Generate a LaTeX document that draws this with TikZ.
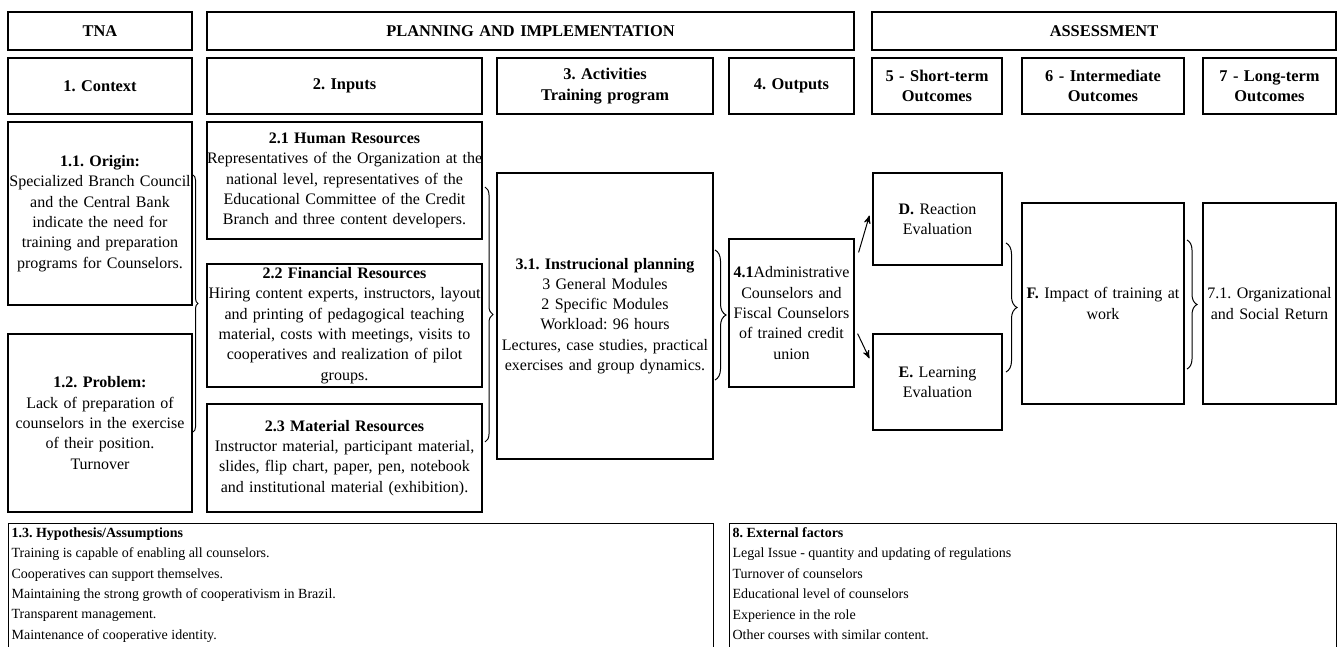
\documentclass[tikz,border=0pt]{standalone}
\usepackage{fontspec}
\setmainfont{Liberation Serif}
\usetikzlibrary{arrows,calc,decorations.pathreplacing}

\newcommand{\boxfont}{\fontsize{8}{10.15}\selectfont\frenchspacing}
\newcommand{\headfont}{\fontsize{8.2}{10.15}\selectfont\frenchspacing\bfseries}
\newcommand{\notefont}{\fontsize{7}{10.2}\selectfont\frenchspacing}

\begin{document}
\begin{tikzpicture}[x=0.5pt,y=-0.5pt,>=stealth',line width=0.6pt]
\tikzstyle{every node}=[font=\boxfont]
\tikzstyle{box}=[draw,inner sep=0pt,align=center]
\tikzstyle{head}=[box,font=\headfont]
\tikzstyle{note}=[inner sep=0pt,align=left,anchor=north west,font=\notefont]
\tikzstyle{brc}=[decorate,line width=0.5pt]

\clip (0,0) rectangle (1340,647);

% stage headers
\node[head, text width=92pt,    minimum height=19pt] (tna)    at (100,31)   {TNA};
\node[head, text width=323.5pt, minimum height=19pt] (plan)   at (530.5,31) {PLANNING AND IMPLEMENTATION};
\node[head, text width=232pt,   minimum height=19pt] (assess) at (1104,31)  {ASSESSMENT};

% column headers
\node[head, text width=92pt,    minimum height=28pt] (ctx)   at (100,86)    {1. Context};
\node[head, text width=137.5pt, minimum height=28pt] (inp)   at (344.5,86)  {2. Inputs};
\node[head, text width=108pt,   minimum height=28pt] (act)   at (605,86)    {3. Activities\\Training program};
\node[head, text width=62.5pt,  minimum height=28pt] (outs)  at (791.5,86)  {4. Outputs};
\node[head, text width=65pt,    minimum height=28pt] (short) at (937,86)    {5 - Short-term\\Outcomes};
\node[head, text width=81pt,    minimum height=28pt] (inter) at (1103,86)   {6 - Intermediate\\Outcomes};
\node[head, text width=66.5pt,  minimum height=28pt] (long)  at (1269.5,86) {7 - Long-term\\Outcomes};

% context
\node[box, text width=92pt, minimum height=91.5pt] (orig) at (100,213.5)
  {\textbf{1.1. Origin:}\\\mbox{Specialized Branch Council}\\and the Central Bank\\indicate the need for\\\mbox{training and preparation}\\\mbox{programs for Counselors.}};
\node[box, text width=92pt, minimum height=89pt] (prob) at (100,423)
  {\textbf{1.2. Problem:}\\Lack of preparation of\\\mbox{counselors in the exercise}\\of their position.\\Turnover};

% inputs
\node[box, text width=137.5pt, minimum height=58.5pt] (hum) at (344.5,180.5)
  {\textbf{2.1 Human Resources}\\\mbox{Representatives of the Organization at the}\\\mbox{national level, representatives of the}\\\mbox{Educational Committee of the Credit}\\\mbox{Branch and three content developers.}};
\node[box, text width=137.5pt, minimum height=61.5pt] (fin) at (344.5,325.5)
  {\textbf{2.2 Financial Resources}\\\mbox{Hiring content experts, instructors, layout}\\\mbox{and printing of pedagogical teaching}\\\mbox{material, costs with meetings, visits to}\\\mbox{cooperatives and realization of pilot}\\groups.};
\node[box, text width=137.5pt, minimum height=54pt] (mat) at (344.5,458)
  {\textbf{2.3 Material Resources}\\\mbox{Instructor material, participant material,}\\\mbox{slides, flip chart, paper, pen, notebook}\\\mbox{and institutional material (exhibition).}};

% activities and outputs
\node[box, text width=108pt, minimum height=143pt] (instr) at (605,316)
  {\textbf{3.1. Instrucional planning}\\3 General Modules\\2 Specific Modules\\Workload: 96 hours\\\mbox{Lectures, case studies, practical}\\\mbox{exercises and group dynamics.}};
\node[box, text width=62.5pt, minimum height=74pt] (outp) at (791.5,313)
  {\mbox{\textbf{4.1}Administrative}\\Counselors and\\\mbox{Fiscal Counselors}\\of trained credit\\union};

% outcomes
\node[box, text width=64.5pt, minimum height=46pt]    (react)  at (937.5,219)    {\textbf{D.} Reaction\\Evaluation};
\node[box, text width=64.5pt, minimum height=48pt]    (learn)  at (937.5,382)    {\textbf{E.} Learning\\Evaluation};
\node[box, text width=81pt,   minimum height=100.5pt] (impact) at (1103,303.5)   {\mbox{\textbf{F.} Impact of training at}\\work};
\node[box, text width=66.5pt, minimum height=100.5pt] (ret)    at (1269.5,303.5) {\mbox{7.1. Organizational}\\and Social Return};

% braces
\draw[brc, decoration={brace,amplitude=2.5pt}] (193,175)  -- (193,432);
\draw[brc, decoration={brace,amplitude=4pt}]   (485,187)  -- (485,442);
\draw[brc, decoration={brace,amplitude=5.5pt}] (715,250)  -- (715,380);
\draw[brc, decoration={brace,amplitude=5.5pt}] (1006,243) -- (1006,372);
\draw[brc, decoration={brace,amplitude=5pt}]   (1187,240) -- (1187,369);

% outputs to short-term outcomes
\draw[->, line width=0.5pt] ($(outp.north east)+(4,14)$)  -- ($(react.south west)+(-3,-50)$);
\draw[->, line width=0.5pt] ($(outp.south east)+(3,-54)$) -- ($(learn.north west)+(-3,25)$);

% assumptions and external factors
\node[draw, inner sep=0pt, minimum width=352.5pt, minimum height=70pt, anchor=north west] (hypbox) at (8,523) {};
\node[draw, inner sep=0pt, minimum width=303.5pt, minimum height=70pt, anchor=north west] (extbox) at (729,523) {};
\node[note] (hyp) at ($(hypbox.north west)+(3,4)$)
  {\textbf{1.3. Hypothesis/Assumptions}\\Training is capable of enabling all counselors.\\Cooperatives can support themselves.\\Maintaining the strong growth of cooperativism in Brazil.\\Transparent management.\\Maintenance of cooperative identity.};
\node[note] (ext) at ($(extbox.north west)+(3,4)$)
  {\textbf{8. External factors}\\Legal Issue - quantity and updating of regulations\\Turnover of counselors\\Educational level of counselors\\Experience in the role\\Other courses with similar content.};
\end{tikzpicture}
\end{document}
